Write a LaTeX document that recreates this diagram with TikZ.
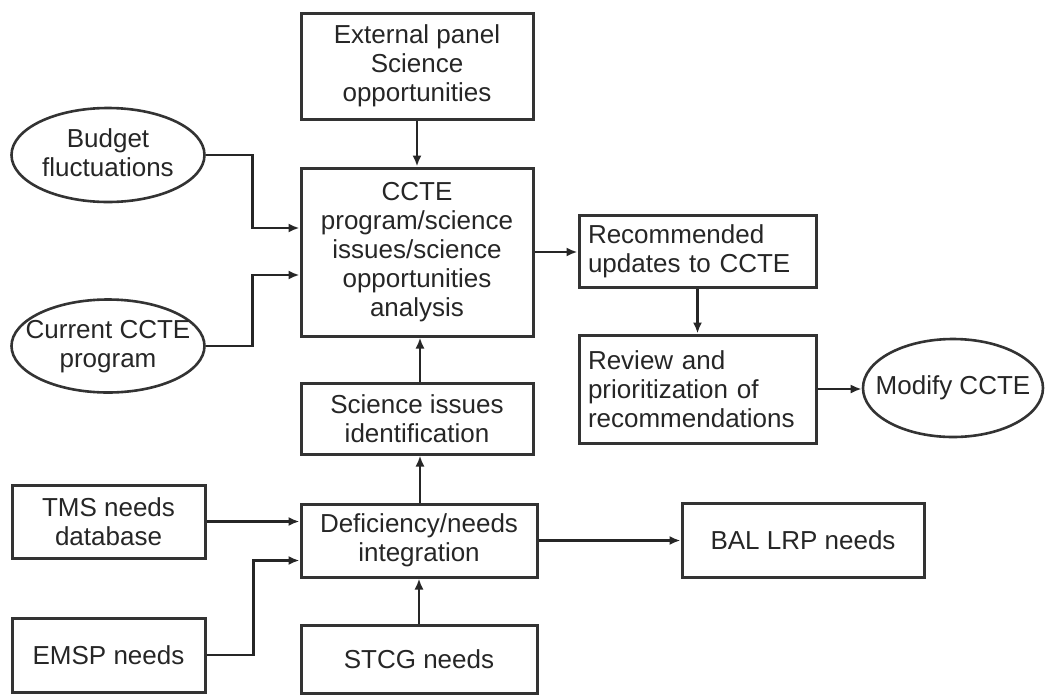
\documentclass[tikz,border=0pt]{standalone}
\usepackage{fontspec}
\setmainfont{Liberation Sans}
\usetikzlibrary{shapes.geometric,arrows.meta}
% text that takes no room, so an oval keeps its given size
\newcommand{\snug}[1]{\makebox[0pt]{\smash{\raisebox{-0.28em}{\begin{tabular}{@{}c@{}}#1\end{tabular}}}}}
\begin{document}
\begin{tikzpicture}[x=1pt,y=-1pt,
  every node/.style={font=\fontsize{26}{29}\selectfont, text=black!85},
  box/.style={draw=black!80, line width=3pt, rectangle, inner sep=0pt, align=center},
  oval/.style={draw=black!80, line width=2.6pt, ellipse, inner sep=0pt},
  arr/.style={draw=black!85, line width=2.8pt, -{Latex[length=11pt,width=9pt]}}]
\useasboundingbox (0,0) rectangle (1050,694);

% boxes and ovals
\node[box, minimum width=232, minimum height=106] (ext) at (417,66)
  {External panel\\Science\\opportunities};
\node[box, minimum width=232, minimum height=168] (ccte) at (417,252)
  {CCTE\\program/science\\issues/science\\opportunities\\analysis};
\node[oval, minimum width=193, minimum height=94] (budget) at (108,155)
  {\snug{Budget\\fluctuations}};
\node[oval, minimum width=193, minimum height=93] (current) at (108,346)
  {\snug{Current CCTE\\program}};
\node[box, minimum width=237, minimum height=72, text width=219, align=left] (rec) at (697.5,251)
  {Recommended\\updates to CCTE};
\node[box, minimum width=237, minimum height=108, text width=219, align=left] (rev) at (697.5,389)
  {Review and\\prioritization of\\recommendations};
\node[oval, minimum width=180, minimum height=98] (modify) at (953,388)
  {\snug{Modify CCTE}};
\node[box, minimum width=232, minimum height=71] (sci) at (417,418.5)
  {Science issues\\identification};
\node[box, minimum width=193, minimum height=73] (tms) at (108.5,521.5)
  {TMS needs\\database};
\node[box, minimum width=236, minimum height=73] (def) at (419,540.5)
  {Deficiency/needs\\integration};
\node[box, minimum width=242, minimum height=74] (bal) at (803,540)
  {BAL LRP needs};
\node[box, minimum width=193, minimum height=74] (emsp) at (108.5,655)
  {EMSP needs};
\node[box, minimum width=236, minimum height=68] (stcg) at (419,659)
  {STCG needs};

% connectors
\draw[arr] (ext.south) -- (ccte.north);
\draw[arr] (budget.east) -- ++(47,0) |- ([yshift=24pt]ccte.west);
\draw[arr] (current.east) -- ++(47,0) |- ([yshift=-23pt]ccte.west);
\draw[arr] (ccte.east) -- (ccte.east -| rec.west);
\draw[arr] (rec.south) -- (rev.north);
\draw[arr] (rev.east) -- (rev.east -| modify.west);
\draw[arr] ([xshift=3pt]sci.north) -- ([xshift=3pt]ccte.south);
\draw[arr] ([xshift=1pt]def.north) -- ([xshift=3pt]sci.south);
\draw[arr] (stcg.north) -- (def.south);
\draw[arr] (tms.east) -- (tms.east -| def.west);
\draw[arr] (emsp.east) -- ++(47,0) |- ([yshift=-20pt]def.west);
\draw[arr] (def.east) -- (def.east -| bal.west);
\end{tikzpicture}
\end{document}
